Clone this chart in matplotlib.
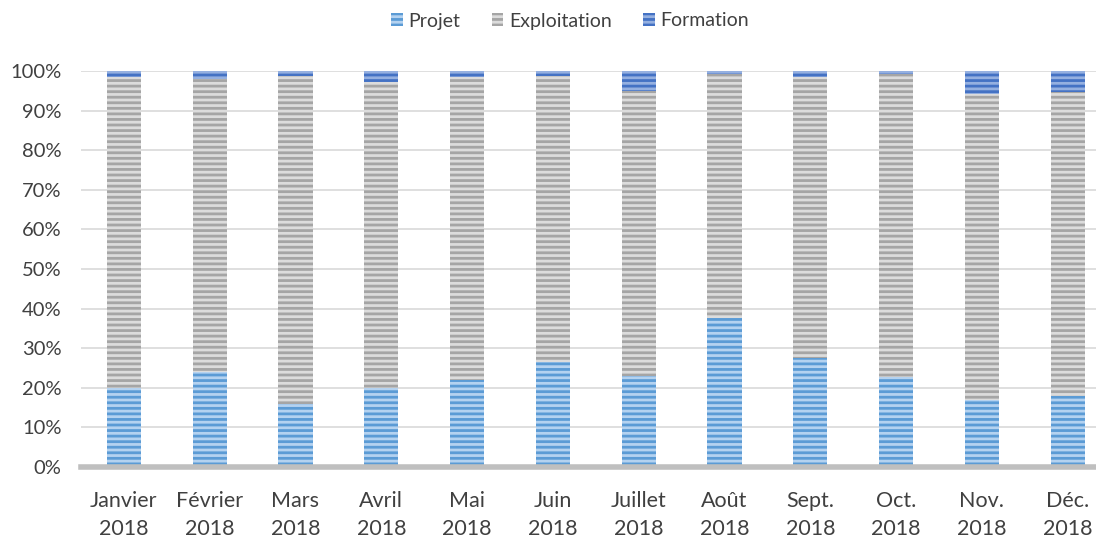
import numpy as np
import matplotlib.pyplot as plt

# Monthly split of activity (fractions of 100%)
months = ['Janvier\n2018', 'Février\n2018', 'Mars\n2018', 'Avril\n2018', 'Mai\n2018',
          'Juin\n2018', 'Juillet\n2018', 'Août\n2018', 'Sept.\n2018', 'Oct.\n2018',
          'Nov.\n2018', 'Déc.\n2018']
projet = [20.0, 24.0, 16.0, 20.0, 22.0, 26.5, 23.0, 37.6, 27.5, 22.7, 17.0, 18.0]
formation = [1.5, 2.0, 1.2, 2.8, 1.5, 1.3, 5.0, 0.8, 1.5, 0.8, 5.8, 5.3]
exploitation = [100 - p - f for p, f in zip(projet, formation)]

plt.rcParams['font.family'] = ['Lato', 'DejaVu Sans']
plt.rcParams['hatch.linewidth'] = 2.0
text_color = '#404040'

fig = plt.figure(figsize=(10.96, 5.40), dpi=100)
ax = fig.add_axes([81 / 1096, 1 - 467 / 540, 1 - 81 / 1096, (467 - 71) / 540])

x = np.arange(len(months))
width = 0.4
series = [
    ('Projet', projet, '#b4d2f0', '#5b9bd5'),
    ('Exploitation', exploitation, '#dcdcdc', '#a5a5a5'),
    ('Formation', formation, '#95b0e0', '#4472c4'),
]
bottom = np.zeros(len(months))
for name, vals, face, hatch_col in series:
    vals = np.array(vals) / 100
    ax.bar(x, vals, width, bottom=bottom, color=face, edgecolor=hatch_col,
           hatch='---', linewidth=0, label=name, zorder=3)
    bottom += vals

ax.set_xlim(-0.5, 11.33)
ax.set_ylim(0, 1)
ax.set_yticks(np.arange(0, 1.01, 0.1))
ax.set_yticklabels([f'{int(round(v * 100))}%' for v in np.arange(0, 1.01, 0.1)])
ax.set_xticks(x)
ax.set_xticklabels(months, fontsize=15.5, linespacing=1.5)
ax.grid(axis='y', color='#d9d9d9', linewidth=1.2, zorder=0)
for s in ['top', 'right', 'left']:
    ax.spines[s].set_visible(False)
ax.spines['bottom'].set_color('#bfbfbf')
ax.spines['bottom'].set_linewidth(4)
ax.spines['bottom'].set_zorder(4)
ax.tick_params(axis='both', length=0, colors=text_color)
ax.tick_params(axis='x', pad=17)
ax.tick_params(axis='y', pad=14, labelsize=14.5)

leg = ax.legend(loc='center', bbox_to_anchor=(570 / 1096, 1 - 21 / 540), bbox_transform=fig.transFigure,
                ncol=3, frameon=False, fontsize=14, handlelength=0.6, handleheight=0.6,
                handletextpad=0.3, columnspacing=1.6)
for t in leg.get_texts():
    t.set_color(text_color)

fig.savefig('out.png', dpi=100)
